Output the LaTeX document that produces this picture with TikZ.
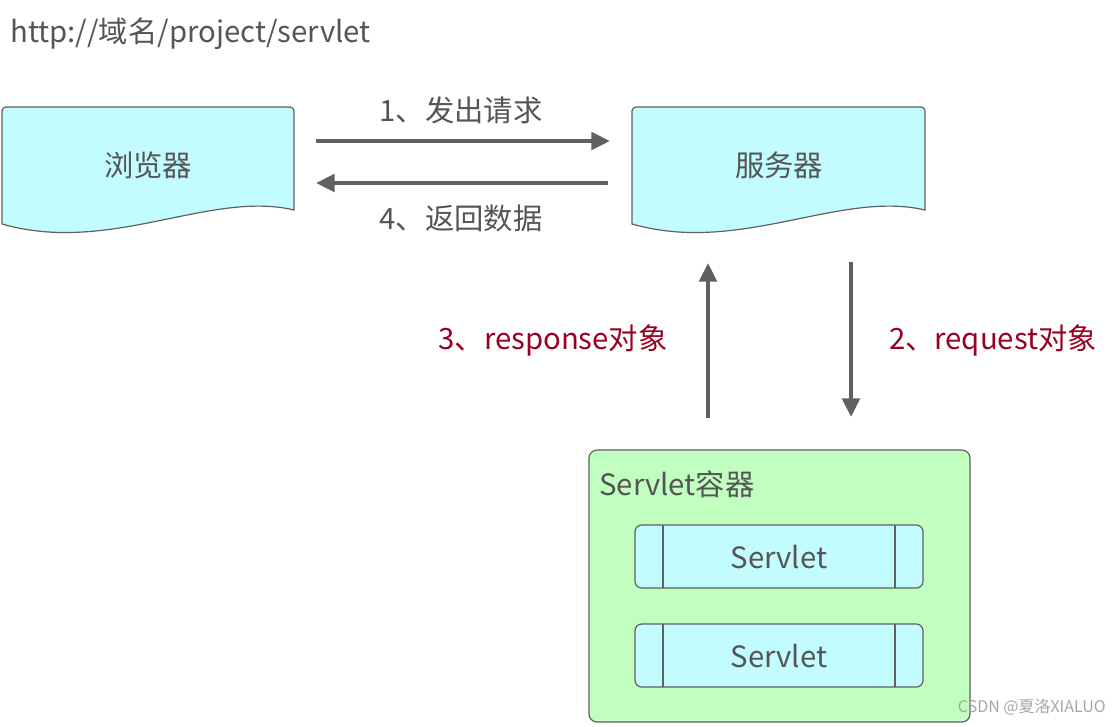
\documentclass[tikz,border=0pt]{standalone}
\usepackage{fontspec}
\setmainfont{Noto Sans CJK SC}
\usetikzlibrary{arrows.meta}
\definecolor{boxcyan}{HTML}{C2FCFF}
\definecolor{boxgreen}{HTML}{C0FFC0}
\definecolor{linegray}{HTML}{606060}
\definecolor{textgray}{HTML}{555555}
\definecolor{darkred}{HTML}{990022}
\begin{document}
\begin{tikzpicture}[x=0.75pt, y=-0.75pt,
        doc/.style={fill=boxcyan, draw=linegray, line width=0.9pt},
        label/.style={text=textgray, font=\fontsize{22}{26}\selectfont, inner sep=0pt},
        redlabel/.style={text=darkred, font=\fontsize{22}{26}\selectfont, inner sep=0pt},
        flow/.style={draw=linegray, line width=3pt, -{Triangle[length=14pt, width=13pt]}},
        servlet/.style={draw=linegray, fill=boxcyan, rounded corners=5pt, line width=0.9pt}
    ]
        \useasboundingbox (0,0) rectangle (1120,726);

        \node[label, anchor=west] (url) at (10,34) {http://域名/project/servlet};

        % documents
        \path[doc] (2,110) [rounded corners=3pt] -- (2,107) -- (294,107) [sharp corners] -- (294,210)
            .. controls (210,190) and (110,255) .. (2,224) -- cycle;
        \path[doc] (632,110) [rounded corners=3pt] -- (632,107) -- (925,107) [sharp corners] -- (925,210)
            .. controls (840,190) and (740,255) .. (632,224) -- cycle;
        \node[label] (browser) at (148,165) {浏览器};
        \node[label] (server) at (779,165) {服务器};

        \coordinate (b1) at (316,141);
        \coordinate (s1) at (610,141);
        \coordinate (s4) at (608,183);
        \coordinate (b4) at (316,183);
        \draw[flow] (b1) -- (s1);
        \draw[flow] (s4) -- (b4);
        \node[label] (req) at (461,110) {1、发出请求};
        \node[label] (ret) at (461,218) {4、返回数据};

        % container
        \draw[fill=boxgreen, draw=linegray, rounded corners=6pt, line width=0.9pt] (589,450) rectangle (970,722);
        \node[label, anchor=west] (container) at (599,484) {Servlet容器};
        \coordinate (cu) at (708,418);
        \coordinate (su) at (708,263);
        \coordinate (sd) at (851,262);
        \coordinate (cd) at (851,417);
        \draw[flow] (cu) -- (su);
        \draw[flow] (sd) -- (cd);
        \node[redlabel] (resp) at (553,340) {3、response对象};
        \node[redlabel] (reqo) at (993,340) {2、request对象};

        \foreach \y/\n in {525/one, 624/two} {
            \draw[servlet] (635,\y) rectangle (923,\y+63);
            \draw[draw=linegray, line width=0.9pt] (663,\y) -- (663,\y+63) (895,\y) -- (895,\y+63);
            \node[label] (servlet\n) at (779,\y+32) {Servlet};
        }

        \node[text=gray!70, font=\fontsize{12}{14}\selectfont, anchor=east, inner sep=0pt] (mark) at (1106,707) {CSDN @夏洛XIALUO};
    \end{tikzpicture}
\end{document}
